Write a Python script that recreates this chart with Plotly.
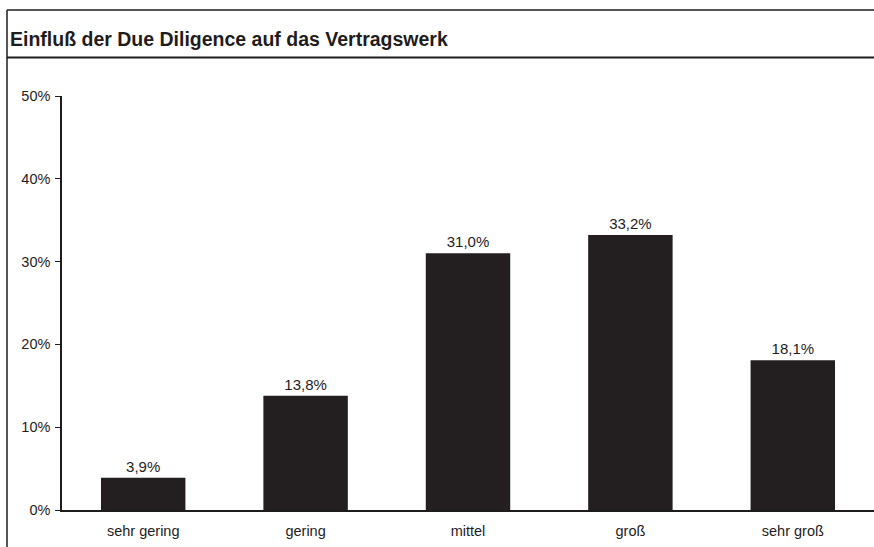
import plotly.graph_objects as go

# Survey result: influence of due diligence on the contract
categories = ["sehr gering", "gering", "mittel", "groß", "sehr groß"]
shares = [3.9, 13.8, 31.0, 33.2, 18.1]
tick_vals = [0, 10, 20, 30, 40, 50]
tick_text = ["0%", "10%", "20%", "30%", "40%", "50%"]

value_labels = [f"{v:.1f}%".replace(".", ",") for v in shares]

W, H = 874, 547
L, R, T, B = 62, 0, 96, 37
pw, ph = W - L - R, H - T - B


def px_x(x):
    return (x - L) / pw


def px_y(y):
    return (H - B - y) / ph


ink = "#1f1c1d"
font = "Liberation Sans, Arial, sans-serif"

fig = go.Figure(
    go.Bar(
        x=categories,
        y=shares,
        width=0.52,
        marker=dict(color="#231f20", line=dict(width=0)),
        text=value_labels,
        textposition="outside",
        textfont=dict(family=font, size=15, color=ink),
        cliponaxis=False,
    )
)

fig.update_layout(
    width=W,
    height=H,
    margin=dict(l=L, r=R, t=T, b=B),
    paper_bgcolor="white",
    plot_bgcolor="white",
    showlegend=False,
    font=dict(family=font, size=14, color=ink),
    bargap=0.48,
)

fig.update_xaxes(
    range=[-0.5, 4.5],
    showline=True,
    linecolor=ink,
    linewidth=1.5,
    ticks="",
    showgrid=False,
    tickfont=dict(family=font, size=14.5, color=ink),
    ticklabelstandoff=7,
)

fig.update_yaxes(
    range=[0, 50],
    tickvals=tick_vals,
    ticktext=tick_text,
    showline=True,
    linecolor=ink,
    linewidth=1.5,
    ticks="outside",
    ticklen=5,
    tickcolor=ink,
    showgrid=False,
    zeroline=False,
    tickfont=dict(family=font, size=14.5, color=ink),
    ticklabelstandoff=2,
)

# Frame: top rule, left border and the rule under the heading
fig.add_shape(type="line", xref="paper", yref="paper",
              x0=px_x(7), x1=px_x(W + 2), y0=px_y(10), y1=px_y(10),
              line=dict(color=ink, width=1.5))
fig.add_shape(type="line", xref="paper", yref="paper",
              x0=px_x(7), x1=px_x(7), y0=px_y(10), y1=px_y(H + 2),
              line=dict(color=ink, width=1.5))
fig.add_shape(type="line", xref="paper", yref="paper",
              x0=px_x(7), x1=px_x(W + 2), y0=px_y(57.5), y1=px_y(57.5),
              line=dict(color=ink, width=2.2))

fig.add_annotation(
    text="<b>Einfluß der Due Diligence auf das Vertragswerk</b>",
    xref="paper", yref="paper",
    x=px_x(8), y=px_y(39),
    xanchor="left", yanchor="middle",
    showarrow=False,
    font=dict(family=font, size=19.5, color=ink),
)

fig.write_html("out.html")
